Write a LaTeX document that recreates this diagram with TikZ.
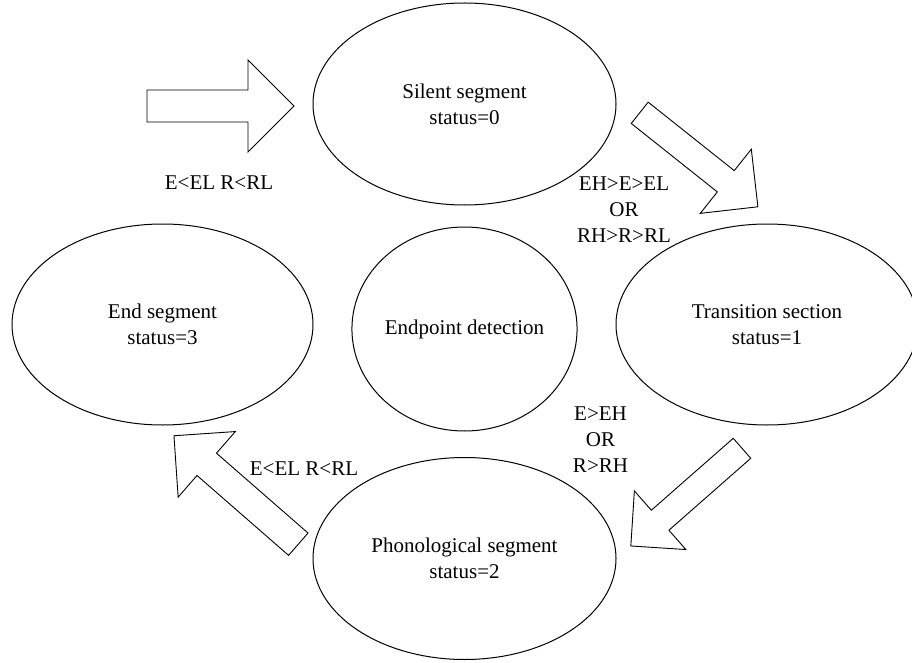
\documentclass[tikz,border=0pt]{standalone}
\usepackage{fontspec}
\setmainfont{Liberation Serif}
\usetikzlibrary{shapes.geometric}

\tikzset{
  stagebox/.style={draw, ellipse, inner sep=0pt, align=center, line width=1pt},
  cond/.style={align=center},
  pics/bigarrow/.style args={#1/#2/#3}{code={
    \draw[line width=0.9pt, fill=white, line join=miter]
      (0,-#2) -- ({#1-#3},-#2) -- ({#1-#3},-#3) -- (#1,0)
      -- ({#1-#3},#3) -- ({#1-#3},#2) -- (0,#2) -- cycle;
  }}
}

\begin{document}
\begin{tikzpicture}[x=1pt, y=-1pt, font=\fontsize{21}{26}\selectfont]
    \clip (0,0) rectangle (912,663);
    \node[stagebox, minimum width=303pt, minimum height=202pt] (silent) at (464.5,104) {Silent segment\\status=0};
    \node[stagebox, minimum width=302pt, minimum height=201pt] (trans) at (767,324.5) {Transition section\\status=1};
    \node[stagebox, minimum width=303pt, minimum height=202pt] (phono) at (464.5,558.5) {Phonological segment\\status=2};
    \node[stagebox, minimum width=301pt, minimum height=201pt] (endseg) at (162.5,324.5) {End segment\\status=3};
    \node[stagebox, minimum width=207pt, minimum height=204pt] (detect) at (464.5,329) {Endpoint detection};

    \pic[rotate=0] at (147,106) {bigarrow=147/16/46};
    \pic[rotate=-38.5] at (639.7,112.8) {bigarrow=151/13.6/41};
    \pic[rotate=-138.7] at (742,448.3) {bigarrow=148/13.3/39};
    \pic[rotate=138.9] at (298.3,544.2) {bigarrow=165/14.8/43.5};

    \node[cond] (lowtop) at (219,183) {E<EL R<RL};
    \node[cond] (rise) at (624,210) {EH>E>EL\\OR\\RH>R>RL};
    \node[cond] (high) at (600.5,440) {E>EH\\OR\\R>RH};
    \node[cond] (lowbot) at (304,469) {E<EL R<RL};
  \end{tikzpicture}
\end{document}
